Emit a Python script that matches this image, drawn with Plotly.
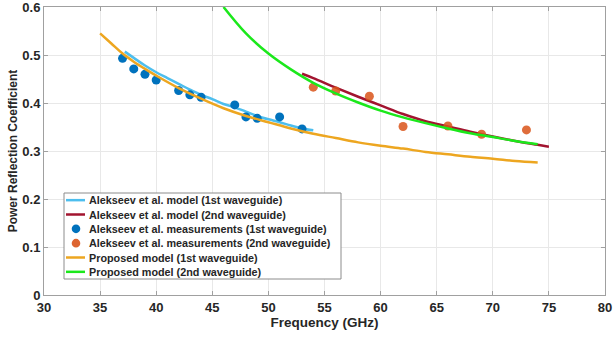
import plotly.graph_objects as go

# --- data ---
meas1_f = [37, 38, 39, 40, 42, 43, 44, 47, 48, 49, 51, 53]
meas1_r = [0.493, 0.471, 0.460, 0.448, 0.426, 0.417, 0.412, 0.396, 0.371, 0.368, 0.371, 0.346]

meas2_f = [54, 56, 59, 62, 66, 69, 73]
meas2_r = [0.433, 0.425, 0.414, 0.351, 0.352, 0.335, 0.344]

alek1_f = [37.2, 38, 39, 40, 41, 42, 43, 44, 45, 46, 47, 48, 49, 50, 51, 52, 53, 54]
alek1_r = [0.507, 0.494, 0.478, 0.464, 0.452, 0.440, 0.428, 0.417, 0.408, 0.398, 0.391,
           0.382, 0.373, 0.366, 0.360, 0.353, 0.347, 0.343]

alek2_f = [53, 54, 56, 58, 60, 62, 64, 66, 68, 70, 72, 74, 75]
alek2_r = [0.461, 0.452, 0.432, 0.413, 0.395, 0.377, 0.362, 0.351, 0.340, 0.330, 0.321, 0.313, 0.309]

prop1_f = [35, 36, 37, 38, 39, 40, 42, 44, 46, 48, 50, 52, 54, 56, 58, 60, 62, 64, 66, 68, 70, 72, 74]
prop1_r = [0.545, 0.524, 0.503, 0.486, 0.471, 0.457, 0.431, 0.409, 0.389, 0.373, 0.360, 0.347,
           0.336, 0.327, 0.318, 0.311, 0.305, 0.298, 0.293, 0.288, 0.284, 0.279, 0.276]

prop2_f = [46, 48, 50, 52, 54, 56, 58, 60, 62, 64, 66, 68, 70, 72, 74]
prop2_r = [0.600, 0.545, 0.503, 0.470, 0.442, 0.420, 0.401, 0.384, 0.370, 0.358, 0.347, 0.337,
           0.329, 0.321, 0.314]

x_ticks = [30, 35, 40, 45, 50, 55, 60, 65, 70, 75, 80]
y_ticks = [0, 0.1, 0.2, 0.3, 0.4, 0.5, 0.6]

legend_labels = [
    "Alekseev et al. model (1st waveguide)",
    "Alekseev et al. model (2nd waveguide)",
    "Alekseev et al. measurements (1st waveguide)",
    "Alekseev et al. measurements (2nd waveguide)",
    "Proposed model (1st waveguide)",
    "Proposed model (2nd waveguide)",
]
legend_kinds = ["line", "line", "marker", "marker", "line", "line"]
legend_colors = ["#4DBEEE", "#A2142F", "#0072BD", "#D95319", "#EDA620", "#1BE81B"]

FONT = "Liberation Sans"
TXT = "#262626"

W, H = 613, 339
ML, MR, MT, MB = 44, 8, 7, 44
PW, PH = W - ML - MR, H - MT - MB


def px(xp):
    return (xp - ML) / PW


def py(yp):
    return (H - MB - yp) / PH


fig = go.Figure()
fig.add_trace(go.Scatter(x=alek1_f, y=alek1_r, mode="lines",
                         line=dict(color=legend_colors[0], width=2.5, shape="spline"), showlegend=False))
fig.add_trace(go.Scatter(x=alek2_f, y=alek2_r, mode="lines",
                         line=dict(color=legend_colors[1], width=2.5, shape="spline"), showlegend=False))
fig.add_trace(go.Scatter(x=meas1_f, y=meas1_r, mode="markers",
                         marker=dict(color=legend_colors[2], size=9), showlegend=False))
fig.add_trace(go.Scatter(x=meas2_f, y=meas2_r, mode="markers",
                         marker=dict(color=legend_colors[3], size=9, opacity=0.85), showlegend=False))
fig.add_trace(go.Scatter(x=prop1_f, y=prop1_r, mode="lines",
                         line=dict(color=legend_colors[4], width=2.5, shape="spline"), showlegend=False))
fig.add_trace(go.Scatter(x=prop2_f, y=prop2_r, mode="lines",
                         line=dict(color=legend_colors[5], width=2.5, shape="spline"), showlegend=False))

# compact legend box (MATLAB style)
shapes = []
annotations = []
box_l, box_r, box_t, box_b = 64, 341, 193, 279
shapes.append(dict(type="rect", xref="paper", yref="paper",
                   x0=px(box_l), x1=px(box_r), y0=py(box_b), y1=py(box_t),
                   line=dict(color="#8C8C8C", width=1), fillcolor="white", layer="above"))
row_h = (box_b - box_t) / len(legend_labels)
for i, (lab, kind, col) in enumerate(zip(legend_labels, legend_kinds, legend_colors)):
    yc = box_t + row_h * (i + 0.5)
    if kind == "line":
        shapes.append(dict(type="line", xref="paper", yref="paper",
                           x0=px(66), x1=px(85), y0=py(yc), y1=py(yc),
                           line=dict(color=col, width=2.5), layer="above"))
    else:
        r = 4.3
        shapes.append(dict(type="circle", xref="paper", yref="paper",
                           x0=px(76 - r), x1=px(76 + r), y0=py(yc + r), y1=py(yc - r),
                           line=dict(width=0), fillcolor=col, opacity=0.9 if i == 3 else 1, layer="above"))
    annotations.append(dict(xref="paper", yref="paper", x=px(87), y=py(yc),
                            xanchor="left", yanchor="middle", showarrow=False,
                            text=f"<b>{lab}</b>", font=dict(family=FONT, size=10.8, color=TXT)))

axis_common = dict(
    showline=True, linecolor="#A0A0A0", linewidth=1, mirror="ticks",
    ticks="inside", ticklen=4, tickcolor="#A0A0A0",
    showgrid=True, gridcolor="#E8E8E8", gridwidth=1, zeroline=False,
    automargin=False, ticklabeloverflow="allow",
    tickfont=dict(family=FONT, size=13, color=TXT),
)

fig.update_layout(
    width=W, height=H,
    margin=dict(l=ML, r=MR, t=MT, b=MB),
    paper_bgcolor="white", plot_bgcolor="white",
    font=dict(family=FONT, color=TXT),
    xaxis=dict(range=[30, 80], tickvals=x_ticks, ticktext=[f"<b>{v}</b>" for v in x_ticks],
               title=dict(text="<b>Frequency (GHz)</b>", font=dict(family=FONT, size=13.5, color=TXT), standoff=3),
               **axis_common),
    yaxis=dict(range=[0, 0.6], tickvals=y_ticks, ticktext=[f"<b>{v:g}</b>" for v in y_ticks],
               title=dict(text="<b>Power Reflection Coefficient</b>", font=dict(family=FONT, size=12, color=TXT), standoff=2),
               **axis_common),
    shapes=shapes,
    annotations=annotations,
    showlegend=False,
)

fig.write_html("out.html", config={"displayModeBar": False},
               post_script="document.body.style.margin='0';")
